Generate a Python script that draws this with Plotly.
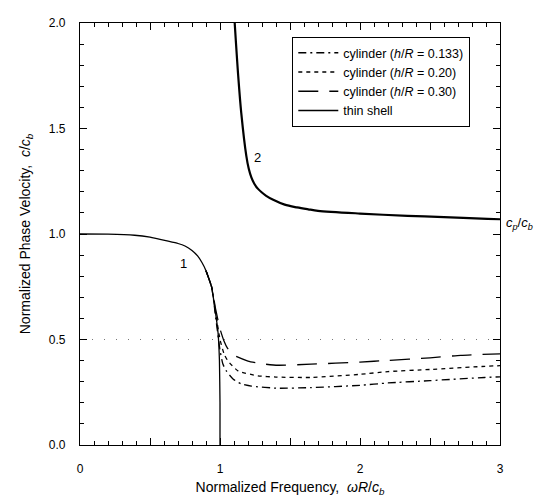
import plotly.graph_objects as go

# ---- data ----
shell_m1_x = [0.0, 0.2, 0.39, 0.5, 0.63, 0.70, 0.75, 0.80, 0.84, 0.87, 0.90, 0.94, 0.962, 0.986, 0.996, 1.0, 1.0]
shell_m1_c = [1.0, 0.999, 0.994, 0.985, 0.966, 0.955, 0.943, 0.922, 0.896, 0.866, 0.826, 0.748, 0.655, 0.532, 0.40, 0.2, 0.0]

mode2_x = [1.105, 1.13, 1.152, 1.188, 1.205, 1.224, 1.245, 1.27, 1.295, 1.33, 1.38, 1.462, 1.55, 1.63, 1.70, 2.0, 2.34, 2.6, 2.91, 3.0]
mode2_c = [2.0, 1.75, 1.573, 1.37, 1.310, 1.268, 1.238, 1.215, 1.199, 1.181, 1.162, 1.139, 1.126, 1.117, 1.110, 1.097, 1.086, 1.08, 1.072, 1.07]

cyl30_x = [0.90, 0.94, 0.97, 1.00, 1.03, 1.052, 1.10, 1.20, 1.30, 1.414, 1.65, 2.0, 2.2, 2.5, 2.72, 3.0]
cyl30_c = [0.826, 0.75, 0.64, 0.55, 0.49, 0.46, 0.425, 0.398, 0.385, 0.378, 0.383, 0.393, 0.401, 0.413, 0.425, 0.432]

cyl20_x = [0.90, 0.94, 0.97, 1.00, 1.03, 1.057, 1.129, 1.271, 1.40, 1.65, 2.0, 2.2, 2.5, 2.87, 3.0]
cyl20_c = [0.826, 0.75, 0.62, 0.50, 0.43, 0.398, 0.351, 0.328, 0.322, 0.320, 0.335, 0.348, 0.358, 0.372, 0.376]

cyl133_x = [0.90, 0.94, 0.97, 1.00, 1.02, 1.045, 1.093, 1.15, 1.224, 1.414, 1.65, 2.0, 2.2, 2.5, 2.89, 3.0]
cyl133_c = [0.826, 0.75, 0.60, 0.45, 0.385, 0.351, 0.313, 0.29, 0.279, 0.269, 0.272, 0.283, 0.294, 0.305, 0.320, 0.323]

ref_x = [0.0, 3.0]
ref_c = [0.5, 0.5]

FONT = "Liberation Sans, Arial, Helvetica, sans-serif"

fig = go.Figure()

# dotted reference line drawn on the overlay axes (same ranges) so they render
fig.add_trace(go.Scatter(x=ref_x, y=ref_c, mode="lines", showlegend=False,
                         xaxis="x2", yaxis="y2",
                         line=dict(color="#777", width=1.2, dash="1px,11px")))

fig.add_trace(go.Scatter(x=cyl133_x, y=cyl133_c, mode="lines",
                         name="cylinder (<i>h</i>/<i>R</i> = 0.133)",
                         line=dict(color="black", width=1.3, dash="8px,4px,2px,4px", shape="spline", smoothing=0.5)))
fig.add_trace(go.Scatter(x=cyl20_x, y=cyl20_c, mode="lines",
                         name="cylinder (<i>h</i>/<i>R</i> = 0.20)",
                         line=dict(color="black", width=1.3, dash="4px,4px", shape="spline", smoothing=0.5)))
fig.add_trace(go.Scatter(x=cyl30_x, y=cyl30_c, mode="lines",
                         name="cylinder (<i>h</i>/<i>R</i> = 0.30)",
                         line=dict(color="black", width=1.3, dash="20px,11px", shape="spline", smoothing=0.5)))
fig.add_trace(go.Scatter(x=shell_m1_x, y=shell_m1_c, mode="lines", name="thin shell",
                         line=dict(color="black", width=1.3, shape="spline", smoothing=0.3)))
fig.add_trace(go.Scatter(x=mode2_x, y=mode2_c, mode="lines", showlegend=False,
                         line=dict(color="black", width=2.2, shape="spline", smoothing=0.9)))

axis_common = dict(showline=True, linecolor="black", linewidth=1.2, mirror="ticks",
                   ticks="inside", tickcolor="black", ticklen=7, tickwidth=1,
                   showgrid=False, zeroline=False, tickmode="linear", dtick=0.5,
                   minor=dict(dtick=0.1, ticks="inside", ticklen=4, tickcolor="black",
                              tickwidth=1, showgrid=False),
                   tickfont=dict(family=FONT, size=12, color="black"))

fig.update_xaxes(range=[0, 3], tick0=0,
                 labelalias={"0.5": " ", "1.5": " ", "2.5": " "},
                 ticklabelstandoff=12,
                 title=dict(text="Normalized Frequency,  <i>ωR</i>/<i>c<sub>b</sub></i>",
                            font=dict(family=FONT, size=14, color="black"), standoff=7),
                 **axis_common)
fig.update_yaxes(range=[0, 2], tick0=0, tickformat=".1f",
                 ticklabelstandoff=11,
                 title=dict(text="Normalized Phase Velocity,  <i>c</i>/<i>c<sub>b</sub></i>",
                            font=dict(family=FONT, size=14, color="black"), standoff=14),
                 **axis_common)

# overlay axes carrying the 0.1 minor ticks
minor_common = dict(showline=False, mirror="ticks", ticks="inside", ticklen=4, tickwidth=1,
                    tickcolor="black", showgrid=False, zeroline=False, showticklabels=False,
                    tickmode="linear", tick0=0, dtick=0.1)
fig.update_layout(
    xaxis2=dict(overlaying="x", side="bottom", range=[0, 3], anchor="y2", **minor_common),
    yaxis2=dict(overlaying="y", side="left", range=[0, 2], anchor="x2", **minor_common),
)

fig.add_annotation(x=0.736, y=0.86, text="1", showarrow=False,
                   font=dict(family=FONT, size=13, color="black"))
fig.add_annotation(x=1.27, y=1.362, text="2", showarrow=False,
                   font=dict(family=FONT, size=13, color="black"))
fig.add_annotation(x=1.0, xref="paper", xshift=35, y=1.05, yref="y",
                   text="<i>c<sub>p</sub></i>/<i>c<sub>b</sub></i>", showarrow=False,
                   font=dict(family=FONT, size=13, color="black"))

fig.update_layout(
    width=547, height=497,
    margin=dict(l=72, r=55, t=8, b=60),
    paper_bgcolor="white", plot_bgcolor="white",
    legend=dict(x=0.505, y=0.967, xanchor="left", yanchor="top",
                bgcolor="white", bordercolor="black", borderwidth=1.2,
                font=dict(family=FONT, size=12.5, color="black"),
                tracegroupgap=0, itemwidth=40),
)

fig.write_html("out.html")
